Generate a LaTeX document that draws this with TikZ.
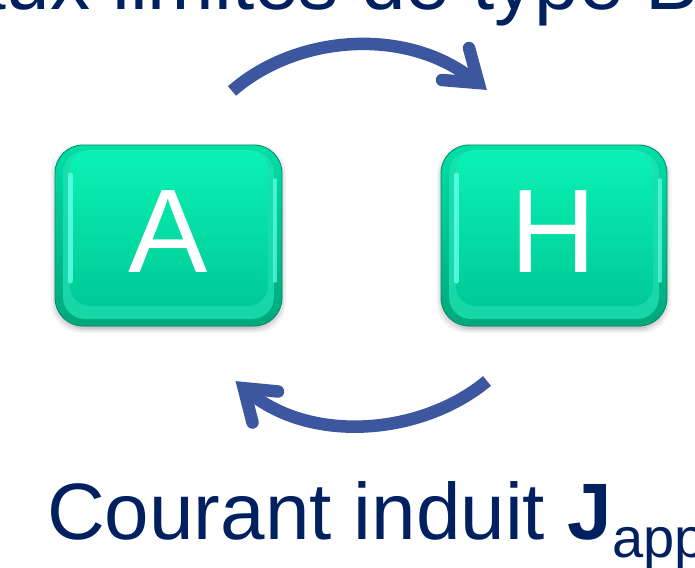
\documentclass[tikz,border=0pt]{standalone}
\usepackage{fontspec}
\setmainfont{Liberation Sans}
\definecolor{navy}{RGB}{0,32,96}
\definecolor{arrowblue}{RGB}{60,86,160}
\definecolor{bevtop}{RGB}{0,222,168}
\definecolor{bevbot}{RGB}{0,168,124}
\definecolor{facetop}{RGB}{10,242,180}
\definecolor{facebot}{RGB}{0,202,150}
\definecolor{glint}{RGB}{100,255,238}
\definecolor{lowband}{RGB}{30,226,176}
\definecolor{rim}{RGB}{0,140,100}
\tikzset{
  bend arrow/.style={draw=arrowblue, line width=12.5pt, line cap=butt},
  arrow head/.style={draw=arrowblue, line width=12.5pt, line cap=round, line join=miter},
  tile letter/.style={text=white, font=\fontsize{119}{120}\selectfont, anchor=base, inner sep=0pt},
  caption/.style={text=navy, font=\fontsize{80}{90}\selectfont, anchor=base west, inner sep=0pt}
}
% one bevelled key: #1 left, #2 right, #3 top, #4 bottom
\newcommand\keytile[4]{%
  % soft drop shadow
  \foreach \k/\o in {7/0.05,5/0.07,3/0.09,1/0.12}{
    \fill[black, opacity=\o, rounded corners=30pt] (#1-\k+3,#3+6-\k) rectangle (#2+\k-3,#4+\k);
  }
  % outer bevel
  \shade[rounded corners=28pt, top color=bevtop, bottom color=bevbot]
    (#1,#3) rectangle (#2,#4);
  \draw[rim, line width=0.8pt, rounded corners=28pt] (#1,#3) rectangle (#2,#4);
  % lighter band along the lower wall
  \fill[lowband, opacity=0.8, rounded corners=22pt] (#1+8,#3+6) rectangle (#2-8,#4-7);
  % top face
  \shade[rounded corners=20pt, top color=facetop, bottom color=facebot]
    (#1+15,#3+5) rectangle (#2-14,#4-20);
  % cyan glints on the side walls
  \draw[glint, line width=5pt, opacity=0.8, line cap=round] (#1+15,#3+30) -- (#1+15,#4-45);
  \draw[glint, line width=3.5pt, opacity=0.7, line cap=round] (#2-7,#3+35) -- (#2-7,#4-45);
}
\begin{document}
\begin{tikzpicture}[x=1pt,y=-1pt]
\useasboundingbox (0,0) rectangle (695,567);
\fill[white] (0,0) rectangle (695,567);

% heading, cut by the top edge
\node[caption] (head) at (-39,10) {aux limites de type B};

% the two keys
\keytile{55}{282}{145}{326}
\keytile{441}{667}{145}{326}
\node[tile letter] (A) at (168,272) {A};
\node[tile letter] (H) at (553,272) {H};

% curved arrow from A to H
\coordinate (t0) at (232,91);
\coordinate (t1) at (476,82);
\coordinate (tip1) at (478.5,83);
\coordinate (b1a) at (469,48);
\coordinate (b1b) at (442,80);
\draw[bend arrow] (t0) .. controls (297,34) and (409,26) .. (t1);
\draw[arrow head] (b1a) -- (tip1) -- (b1b);

% curved arrow from H back to A
\coordinate (u0) at (487,381);
\coordinate (u1) at (246,390);
\coordinate (tip2) at (243.8,388.2);
\coordinate (b2a) at (278,391.5);
\coordinate (b2b) at (252.5,422.5);
\draw[bend arrow] (u0) .. controls (422,435) and (310,445) .. (u1);
\draw[arrow head] (b2a) -- (tip2) -- (b2b);

% caption below
\node[caption] (foot) at (47,539)
  {Courant induit {\bfseries J}\raisebox{-18pt}{\fontsize{56}{60}\selectfont app}};
\end{tikzpicture}
\end{document}
